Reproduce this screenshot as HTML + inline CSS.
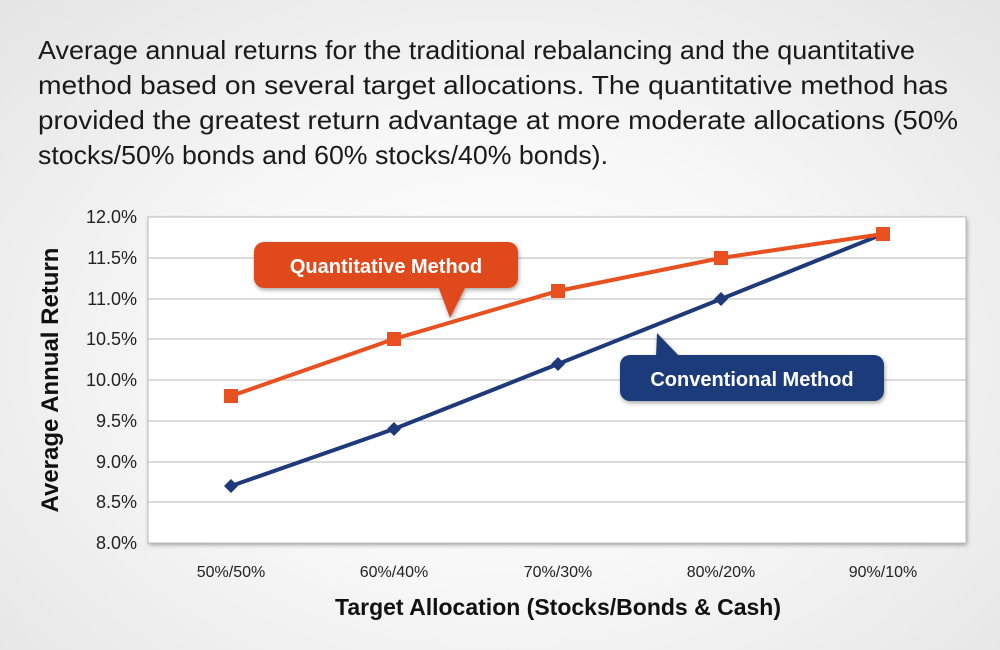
<!DOCTYPE html>
<html><head><meta charset="utf-8"><style>
html,body{margin:0;padding:0;width:1000px;height:650px;overflow:hidden}
body{background:radial-gradient(ellipse at 50% 55%,#ffffff 0%,#f7f7f7 45%,#e4e4e4 100%)}
svg{position:absolute;left:0;top:0}
text{font-family:"Liberation Sans",sans-serif}
</style></head><body>
<svg width="1000" height="650" viewBox="0 0 1000 650">
<defs><filter id="sh" x="-5%" y="-5%" width="110%" height="115%"><feDropShadow dx="1" dy="2" stdDeviation="2" flood-opacity="0.35"/></filter></defs>
<g font-size="26" fill="#1a1a1a">
<text x="38" y="59" textLength="877" lengthAdjust="spacingAndGlyphs">Average annual returns for the traditional rebalancing and the quantitative</text>
<text x="38" y="94" textLength="910" lengthAdjust="spacingAndGlyphs">method based on several target allocations. The quantitative method has</text>
<text x="38" y="129" textLength="920" lengthAdjust="spacingAndGlyphs">provided the greatest return advantage at more moderate allocations (50%</text>
<text x="38" y="164" textLength="570" lengthAdjust="spacingAndGlyphs">stocks/50% bonds and 60% stocks/40% bonds).</text>
</g>
<rect x="148" y="217" width="818" height="326" fill="#fff" filter="url(#sh)"/>
<g stroke="#c8c8c8" stroke-width="1.2">
<line x1="148" x2="966" y1="258" y2="258"/><line x1="148" x2="966" y1="299" y2="299"/>
<line x1="148" x2="966" y1="339" y2="339"/><line x1="148" x2="966" y1="380" y2="380"/>
<line x1="148" x2="966" y1="421" y2="421"/><line x1="148" x2="966" y1="462" y2="462"/>
<line x1="148" x2="966" y1="502" y2="502"/>
</g>
<rect x="148" y="217" width="818" height="326" fill="none" stroke="#bbb"/>
<g font-size="18" fill="#222" text-anchor="end">
<text x="137" y="223">12.0%</text><text x="137" y="264">11.5%</text><text x="137" y="305">11.0%</text>
<text x="137" y="345">10.5%</text><text x="137" y="386">10.0%</text><text x="137" y="427">9.5%</text>
<text x="137" y="468">9.0%</text><text x="137" y="508">8.5%</text><text x="137" y="549">8.0%</text>
</g>
<g font-size="16" fill="#222" text-anchor="middle">
<text x="231" y="577">50%/50%</text><text x="394" y="577">60%/40%</text><text x="558" y="577">70%/30%</text>
<text x="721" y="577">80%/20%</text><text x="883" y="577">90%/10%</text>
</g>
<text x="558" y="615" font-size="23" font-weight="bold" text-anchor="middle" fill="#111">Target Allocation (Stocks/Bonds &amp; Cash)</text>
<text transform="translate(58,380) rotate(-90)" font-size="24" font-weight="bold" text-anchor="middle" fill="#111">Average Annual Return</text>
<polyline points="231,486 394,429 558,364 721,299 883,234" fill="none" stroke="#1f3a7a" stroke-width="4"/>
<g fill="#1f3a7a">
<polygon points="231,479 238,486 231,493 224,486"/><polygon points="394,422 401,429 394,436 387,429"/>
<polygon points="558,357 565,364 558,371 551,364"/><polygon points="721,292 728,299 721,306 714,299"/>
</g>
<polyline points="231,396 394,339 558,291 721,258 883,234" fill="none" stroke="#e8501f" stroke-width="4"/>
<g fill="#e8501f">
<rect x="224" y="389" width="14" height="14"/><rect x="387" y="332" width="14" height="14"/>
<rect x="551" y="284" width="14" height="14"/><rect x="714" y="251" width="14" height="14"/>
<rect x="876" y="227" width="14" height="14"/>
</g>
<g filter="url(#sh)">
<rect x="254" y="242" width="264" height="46" rx="10" fill="#e04a1c"/>
<polygon points="438,286 466,286 450,318" fill="#e04a1c"/>
<rect x="620" y="355" width="264" height="46" rx="10" fill="#1f3a7a"/>
<polygon points="656,357 680,357 657,333" fill="#1f3a7a"/>
</g>
<text x="386" y="273" font-size="20" font-weight="bold" fill="#fff" text-anchor="middle">Quantitative Method</text>
<text x="752" y="386" font-size="20" font-weight="bold" fill="#fff" text-anchor="middle">Conventional Method</text>
</svg>
</body></html>
